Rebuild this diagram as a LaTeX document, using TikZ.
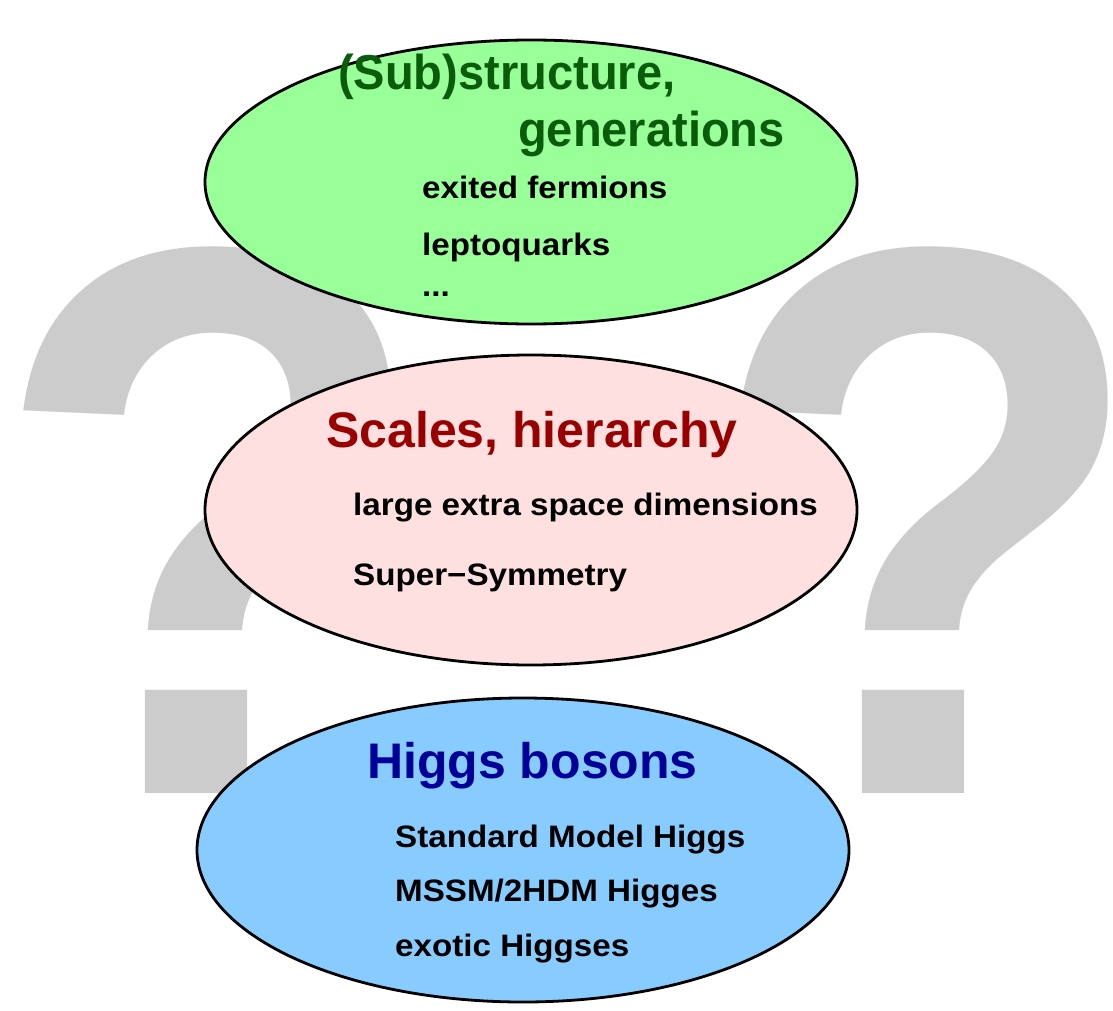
\documentclass[tikz,border=0pt]{standalone}
\usepackage{fontspec}
\setmainfont{Liberation Sans}
\usetikzlibrary{shapes.geometric}
\definecolor{qgray}{HTML}{CCCCCC}
\definecolor{gfill}{HTML}{99FF99}
\definecolor{gtext}{HTML}{0A5C0A}
\definecolor{pfill}{HTML}{FFE0E0}
\definecolor{ptext}{HTML}{990000}
\definecolor{bfill}{HTML}{88CCFF}
\definecolor{btext}{HTML}{000099}
\tikzset{
  bubble/.style={ellipse, draw=black, line width=2.8pt, inner sep=0pt},
  qmark/.style={anchor=base west, inner sep=0pt, xscale=0.925, text=qgray, font=\fontsize{783}{783}\selectfont\bfseries},
  ttl/.style={anchor=base west, inner sep=0pt, font=\fontsize{50}{50}\selectfont\bfseries},
  itm/.style={anchor=base west, inner sep=0pt, xscale=1.07, font=\fontsize{31}{31}\selectfont\bfseries},
}
\begin{document}
\begin{tikzpicture}[x=1pt,y=-1pt]
\useasboundingbox (0,0) rectangle (1113,1011);
% question marks
\node[qmark] (q1) at (-10,793) {?};
\node[qmark] (q2) at (707,793) {?};
% green
\node[bubble, fill=gfill, minimum width=652pt, minimum height=284pt] (g) at (531,182) {};
\node[ttl, text=gtext, xscale=0.96, font=\fontsize{49}{49}\selectfont\bfseries] (g1) at (338,90) {(Sub)structure,};
\node[ttl, text=gtext, xscale=0.96, font=\fontsize{49}{49}\selectfont\bfseries] (g2) at (518,147) {generations};
\node[itm] (g3) at (422,198) {exited fermions};
\node[itm] (g4) at (422,255) {leptoquarks};
\node[itm] (g5) at (422,296) {...};
% pink
\node[bubble, fill=pfill, minimum width=652pt, minimum height=310pt] (p) at (531,510) {};
\node[ttl, text=ptext] (p1) at (326,447) {Scales, hierarchy};
\node[itm] (p2) at (353,515) {large extra space dimensions};
\node[itm] (p3) at (353,585) {Super{\char"2212}Symmetry};
% blue
\node[bubble, fill=bfill, minimum width=652pt, minimum height=304pt] (b) at (523,850) {};
\node[ttl, text=btext] (b1) at (367,778) {Higgs bosons};
\node[itm] (b2) at (395,847) {Standard Model Higgs};
\node[itm] (b3) at (395,901) {MSSM/2HDM Higges};
\node[itm] (b4) at (395,956) {exotic Higgses};
\end{tikzpicture}
\end{document}
